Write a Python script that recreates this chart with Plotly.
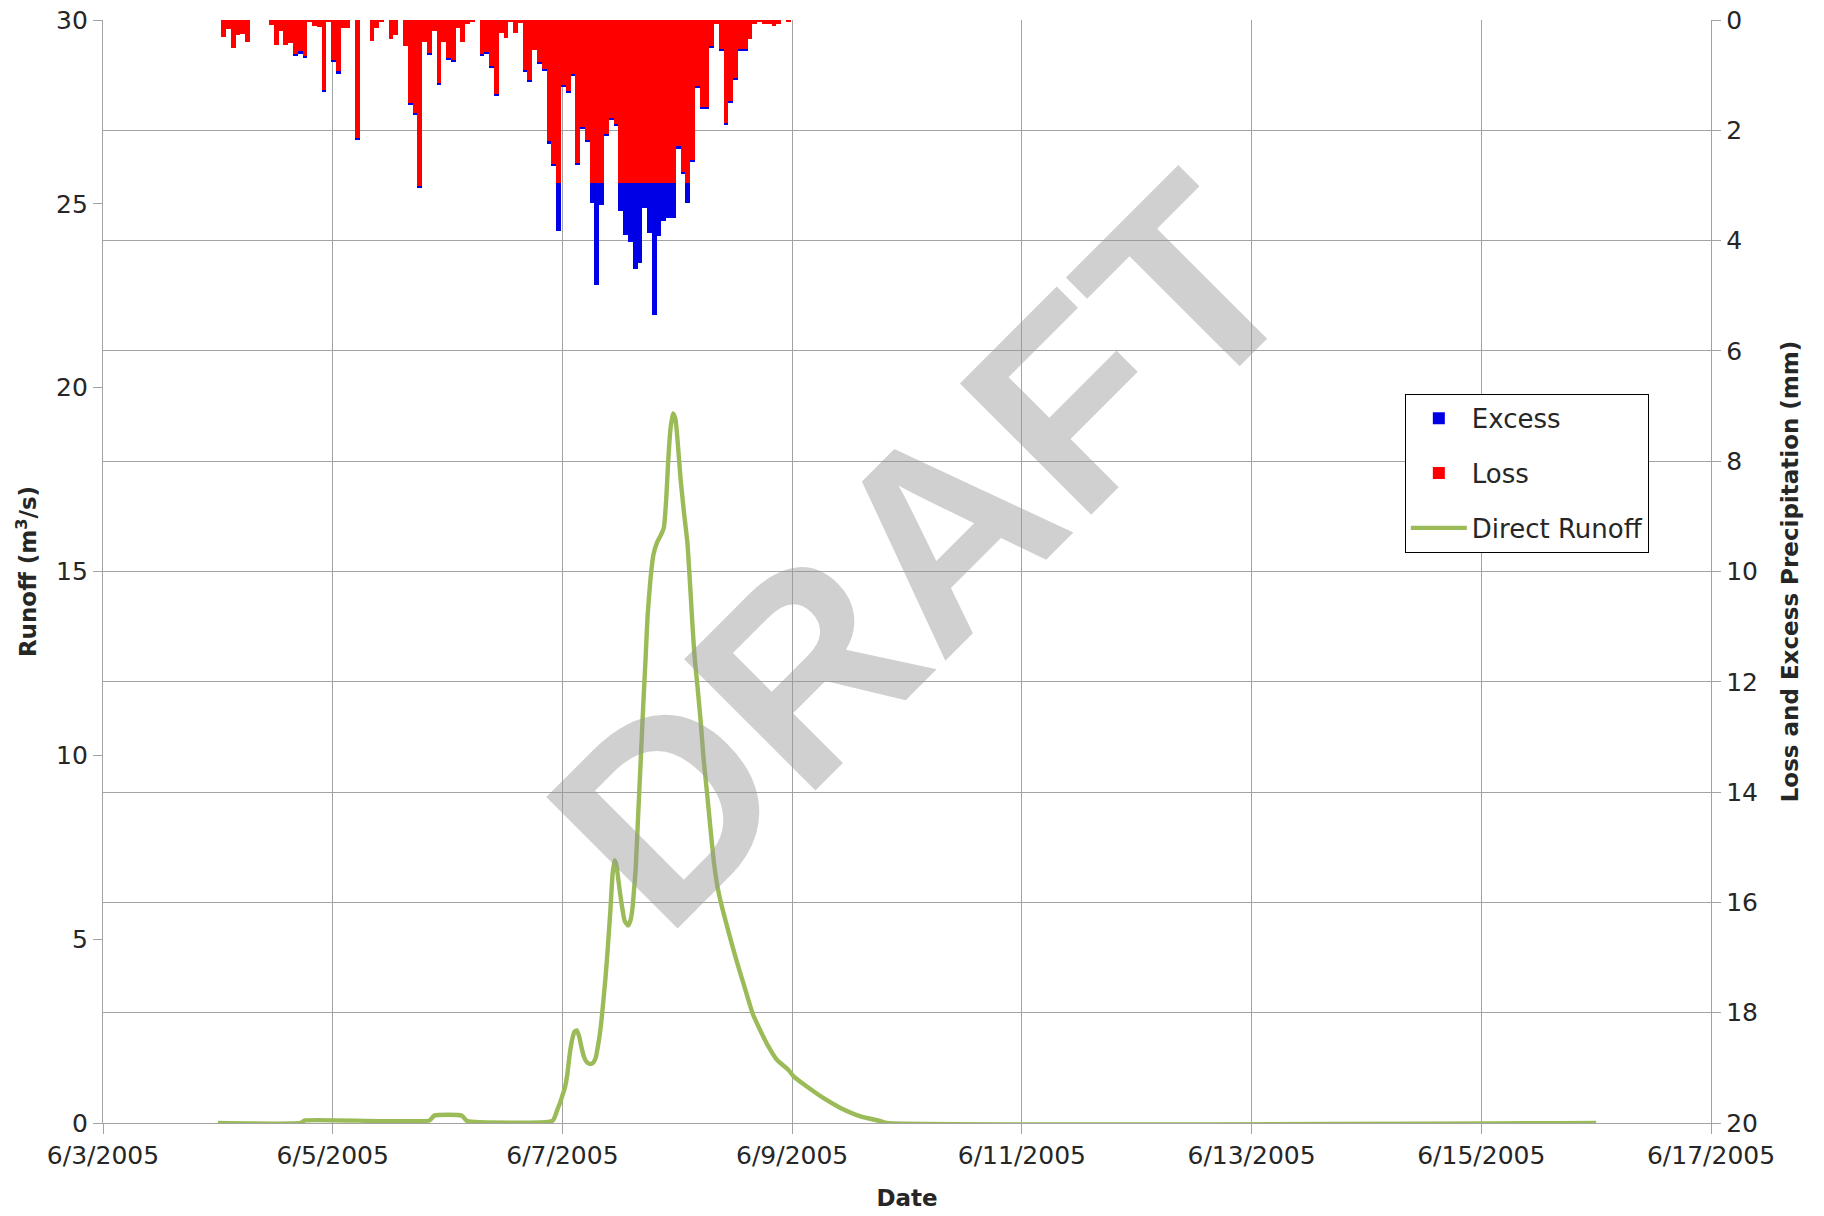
import pandas as pd
import plotly.graph_objects as go

# ---------------- data ----------------
# hourly precipitation bars, first bar starts 2005-06-04 01:00
bar_start = "2005-06-04 01:00"
loss_mm = [
    0.31, 0.16, 0.50, 0.27, 0.25, 0.39, 0, 0, 0, 0,
    0.09, 0.45, 0.20, 0.45, 0.41, 0.63, 0.58, 0.66, 0.04, 0.10,
    0.12, 1.27, 0.03, 0.73, 0.94, 0.14, 0.15, 0, 2.14, 0,
    0, 0.38, 0.14, 0.03, 0, 0.34, 0.27, 0, 0.47, 1.51,
    1.69, 3.01, 0.39, 0.60, 0.20, 1.15, 0.39, 0.70, 0.74, 0.15,
    0.40, 0.07, 0.02, 0, 0.63, 0.59, 0.84, 1.35, 0.24, 0.33,
    0.04, 0.24, 0.06, 0.91, 1.09, 0.54, 0.77, 0.89, 2.21, 2.62,
    2.96, 1.18, 1.29, 0.98, 2.60, 1.95, 2.18, 2.96, 2.96, 2.96,
    2.07, 1.78, 1.90, 2.96, 2.96, 2.96, 2.96, 2.96, 2.96, 2.96,
    2.96, 2.96, 2.96, 2.96, 2.96, 2.30, 2.77, 2.96, 2.55, 1.20,
    1.59, 1.59, 0.48, 0.07, 0.53, 1.88, 1.48, 1.06, 0.53, 0.53,
    0.34, 0.07, 0.02, 0.07, 0.07, 0.11, 0.07, 0, 0.03,
]
excess_mm = [
    0, 0, 0, 0, 0, 0, 0, 0, 0, 0,
    0, 0, 0, 0, 0, 0.03, 0.03, 0.03, 0, 0,
    0, 0.03, 0, 0.03, 0.03, 0, 0, 0, 0.03, 0,
    0, 0, 0, 0, 0, 0, 0, 0, 0, 0.03,
    0.03, 0.03, 0, 0.03, 0, 0.03, 0, 0.03, 0.03, 0,
    0, 0, 0, 0, 0.03, 0.03, 0.03, 0.03, 0, 0,
    0, 0, 0, 0.03, 0.03, 0, 0.03, 0.03, 0.03, 0.03,
    0.86, 0.03, 0.03, 0.03, 0.03, 0.03, 0.03, 0.35, 1.84, 0.39,
    0.03, 0.03, 0.03, 0.51, 0.94, 1.06, 1.55, 1.44, 0.45, 0.90,
    2.38, 0.95, 0.68, 0.63, 0.63, 0.03, 0.03, 0.35, 0.03, 0.03,
    0.03, 0.03, 0.03, 0, 0.03, 0.03, 0.03, 0.03, 0.03, 0.03,
    0, 0, 0, 0, 0, 0, 0, 0, 0,
]

# direct runoff: hours after 2005-06-03 00:00 and flow (m3/s)
runoff_origin = "2005-06-03 00:00"
runoff_hours = [
    24, 41.2, 42.2, 68.2, 69.2, 75.0, 76.0, 93.9, 94.5, 95.0,
    95.5, 96.0, 96.5, 97.0, 97.5, 98.0, 98.5, 99.0, 99.5, 100.0,
    100.5, 101.0, 101.5, 102.0, 102.5, 103.0, 103.5, 104.0, 104.5, 105.0,
    105.5, 106.0, 106.5, 106.9, 107.3, 107.7, 108.1, 108.5, 109.0, 109.7,
    110.2, 110.6, 111.0, 111.3, 111.8, 112.3, 112.9, 113.4, 113.8, 114.4,
    115.0, 115.8, 116.6, 117.2, 117.7, 118.1, 118.6, 119.1, 119.6, 120.1,
    120.7, 121.4, 122.1, 122.6, 123.1, 123.6, 124.2, 124.9, 125.5, 126.2,
    126.9, 127.6, 128.3, 129.2, 130.5, 132.3, 134.0, 135.8, 137.6, 139.0,
    140.8, 143.2, 144.3, 147.0, 151.0, 154.1, 158.3, 162.5, 163.8, 312,
]
runoff_cms = [
    0, 0, 0.07, 0.07, 0.2, 0.2, 0.06, 0.06, 0.2, 0.38,
    0.55, 0.75, 0.95, 1.3, 1.85, 2.25, 2.48, 2.52, 2.35, 2.05,
    1.8, 1.67, 1.62, 1.61, 1.65, 1.8, 2.15, 2.6, 3.25, 3.95,
    4.8, 5.75, 6.8, 7.15, 7.0, 6.6, 6.2, 5.85, 5.5, 5.37,
    5.5, 5.8, 6.4, 6.9, 8.3, 9.7, 11.4, 12.7, 13.8, 14.8,
    15.45, 15.8, 16.0, 16.2, 17.0, 18.0, 18.9, 19.3, 19.15, 18.5,
    17.5, 16.6, 15.8, 14.8, 13.7, 12.7, 11.9, 10.9, 9.9, 9.0,
    8.05, 7.15, 6.5, 5.95, 5.3, 4.45, 3.72, 2.96, 2.45, 2.09,
    1.72, 1.45, 1.27, 1.0, 0.64, 0.41, 0.18, 0.05, 0, 0,
]

x_range = ["2005-06-03", "2005-06-17"]

# ---------------- figure ----------------
FONT = "DejaVu Sans"
GRID = "#a3a3a3"
TXT = "#262626"

bar_x = pd.date_range(bar_start, periods=len(loss_mm), freq="h")
run_x = pd.Timestamp(runoff_origin) + pd.to_timedelta(runoff_hours, unit="h")

HOUR_MS = 3600000

fig = go.Figure()
fig.add_trace(go.Bar(
    x=bar_x, y=loss_mm, name="Loss", yaxis="y2",
    marker=dict(color="#ff0000", line=dict(width=0)),
    width=HOUR_MS, offset=-0.3 * HOUR_MS,
    legendrank=2, legendgroup="loss",
))
fig.add_trace(go.Bar(
    x=bar_x, y=excess_mm, name="Excess", yaxis="y2",
    marker=dict(color="#0000e6", line=dict(width=0)),
    width=HOUR_MS, offset=-0.3 * HOUR_MS,
    legendrank=1, legendgroup="excess",
))
fig.add_trace(go.Scatter(
    x=run_x, y=runoff_cms, name="Direct Runoff", yaxis="y",
    mode="lines", line=dict(color="#9bbb59", width=4.4, shape="spline", smoothing=0.5),
    legendrank=3, legendgroup="runoff",
))

fig.update_layout(
    width=1824, height=1216,
    margin=dict(l=103, r=113, t=20, b=93, autoexpand=False),
    paper_bgcolor="white", plot_bgcolor="white",
    barmode="stack", bargap=0,
    font=dict(family=FONT, size=25, color=TXT),
    showlegend=True,
    legend=dict(
        x=0.8096, y=0.661, xanchor="left", yanchor="top",
        bordercolor="#000000", borderwidth=1, bgcolor="white",
        font=dict(family=FONT, size=26, color=TXT),
        traceorder="grouped", tracegroupgap=18, itemwidth=56,
    ),
    xaxis=dict(
        type="date", range=x_range, automargin=False,
        tick0="2005-06-03", dtick=2 * 86400000,
        tickformat="%-m/%-d/%Y",
        showgrid=True, gridcolor=GRID, gridwidth=1.3,
        showline=True, linecolor=GRID, linewidth=1.3,
        ticks="outside", ticklen=10, tickcolor=GRID, tickwidth=1.3,
        tickfont=dict(family=FONT, size=25, color=TXT),
        title=dict(text="<b>Date</b>", font=dict(family=FONT, size=23, color=TXT), standoff=20),
        zeroline=False,
    ),
    yaxis=dict(
        range=[0, 30], dtick=5, tick0=0, automargin=False,
        showgrid=False, zeroline=False,
        showline=True, linecolor=GRID, linewidth=1.3,
        ticks="outside", ticklen=9, tickcolor=GRID, tickwidth=1.3,
        tickfont=dict(family=FONT, size=25, color=TXT),
        title=dict(text="<b>Runoff (m<sup>3</sup>/s)</b>", font=dict(family=FONT, size=23, color=TXT), standoff=12),
    ),
    yaxis2=dict(
        overlaying="y", side="right", automargin=False,
        range=[20, 0], dtick=2, tick0=0,
        showgrid=True, gridcolor=GRID, gridwidth=1.3,
        zeroline=False,
        showline=True, linecolor=GRID, linewidth=1.3,
        ticks="outside", ticklen=9, tickcolor=GRID, tickwidth=1.3,
        tickfont=dict(family=FONT, size=25, color=TXT),
        title=dict(text="<b>Loss and Excess Precipitation (mm)</b>", font=dict(family=FONT, size=23, color=TXT), standoff=24),
    ),
)

fig.add_annotation(
    text="DRAFT", xref="paper", yref="paper", x=0.5096, y=0.5178,
    xanchor="center", yanchor="middle", showarrow=False, textangle=-45,
    font=dict(family="Liberation Sans", size=270, color="rgba(150,150,150,0.45)", weight="bold"),
)

# remove the browser's default 8px body margin so the figure fills the window
fig.write_html(
    "out.html",
    config={"displayModeBar": False},
    post_script="document.body.style.margin='0';",
)
